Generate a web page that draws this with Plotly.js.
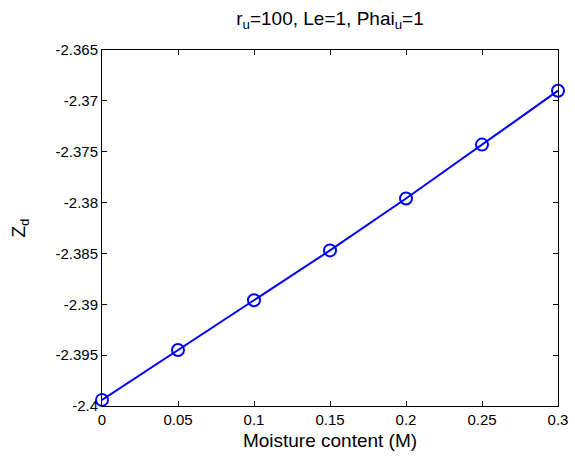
<!DOCTYPE html>
<html>
<head>
<meta charset="utf-8">
<script src="https://cdn.plot.ly/plotly-3.0.1.min.js"></script>
<style>html,body{margin:0;padding:0;background:#fff;}#chart{width:575px;height:461px;}</style>
</head>
<body>
<div id="chart"></div>
<script>
const moisture = [0, 0.05, 0.1, 0.15, 0.2, 0.25, 0.3];
const zd = [-2.3994, -2.3945, -2.3896, -2.3847, -2.3796, -2.3743, -2.3690];
const xTicks = [0, 0.05, 0.1, 0.15, 0.2, 0.25, 0.3];
const xTickLabels = ['0', '0.05', '0.1', '0.15', '0.2', '0.25', '0.3'];
const yTicks = [-2.4, -2.395, -2.39, -2.385, -2.38, -2.375, -2.37, -2.365];
const yTickLabels = ['-2.4', '-2.395', '-2.39', '-2.385', '-2.38', '-2.375', '-2.37', '-2.365'];

const fam = 'Liberation Sans, Arial, sans-serif';
const tickFont = {family: fam, size: 15, color: '#000'};
const labelFont = {family: fam, size: 19, color: '#000'};
const axisCommon = {
  showline: true, linecolor: '#000', linewidth: 1, mirror: 'ticks',
  ticks: 'inside', ticklen: 5, tickcolor: '#000', tickwidth: 1,
  showgrid: false, zeroline: false, tickfont: tickFont
};
Plotly.newPlot('chart', [{
  x: moisture, y: zd, type: 'scatter', mode: 'lines+markers',
  line: {color: '#0000ff', width: 2},
  marker: {symbol: 'circle-open', size: 12, color: '#0000ff', line: {width: 2, color: '#0000ff'}},
  cliponaxis: false
}], {
  width: 575, height: 461,
  margin: {l: 102, r: 17, t: 50, b: 55},
  paper_bgcolor: '#fff', plot_bgcolor: '#fff',
  showlegend: false,
  font: tickFont,
  title: {text: 'r<sub>u</sub>=100, Le=1, Phai<sub>u</sub>=1', font: labelFont,
          x: 0.5, xref: 'paper', y: 1 - 18/461, yref: 'container', yanchor: 'middle'},
  xaxis: Object.assign({}, axisCommon, {
    range: [0, 0.3], tickvals: xTicks, ticktext: xTickLabels,
    title: {text: 'Moisture content (M)', font: labelFont, standoff: 6}
  }),
  yaxis: Object.assign({}, axisCommon, {
    range: [-2.4, -2.365], tickvals: yTicks, ticktext: yTickLabels,
    title: {text: 'Z<sub>d</sub>', font: labelFont, standoff: 24}
  })
}, {displayModeBar: false, staticPlot: true});
</script>
</body>
</html>
